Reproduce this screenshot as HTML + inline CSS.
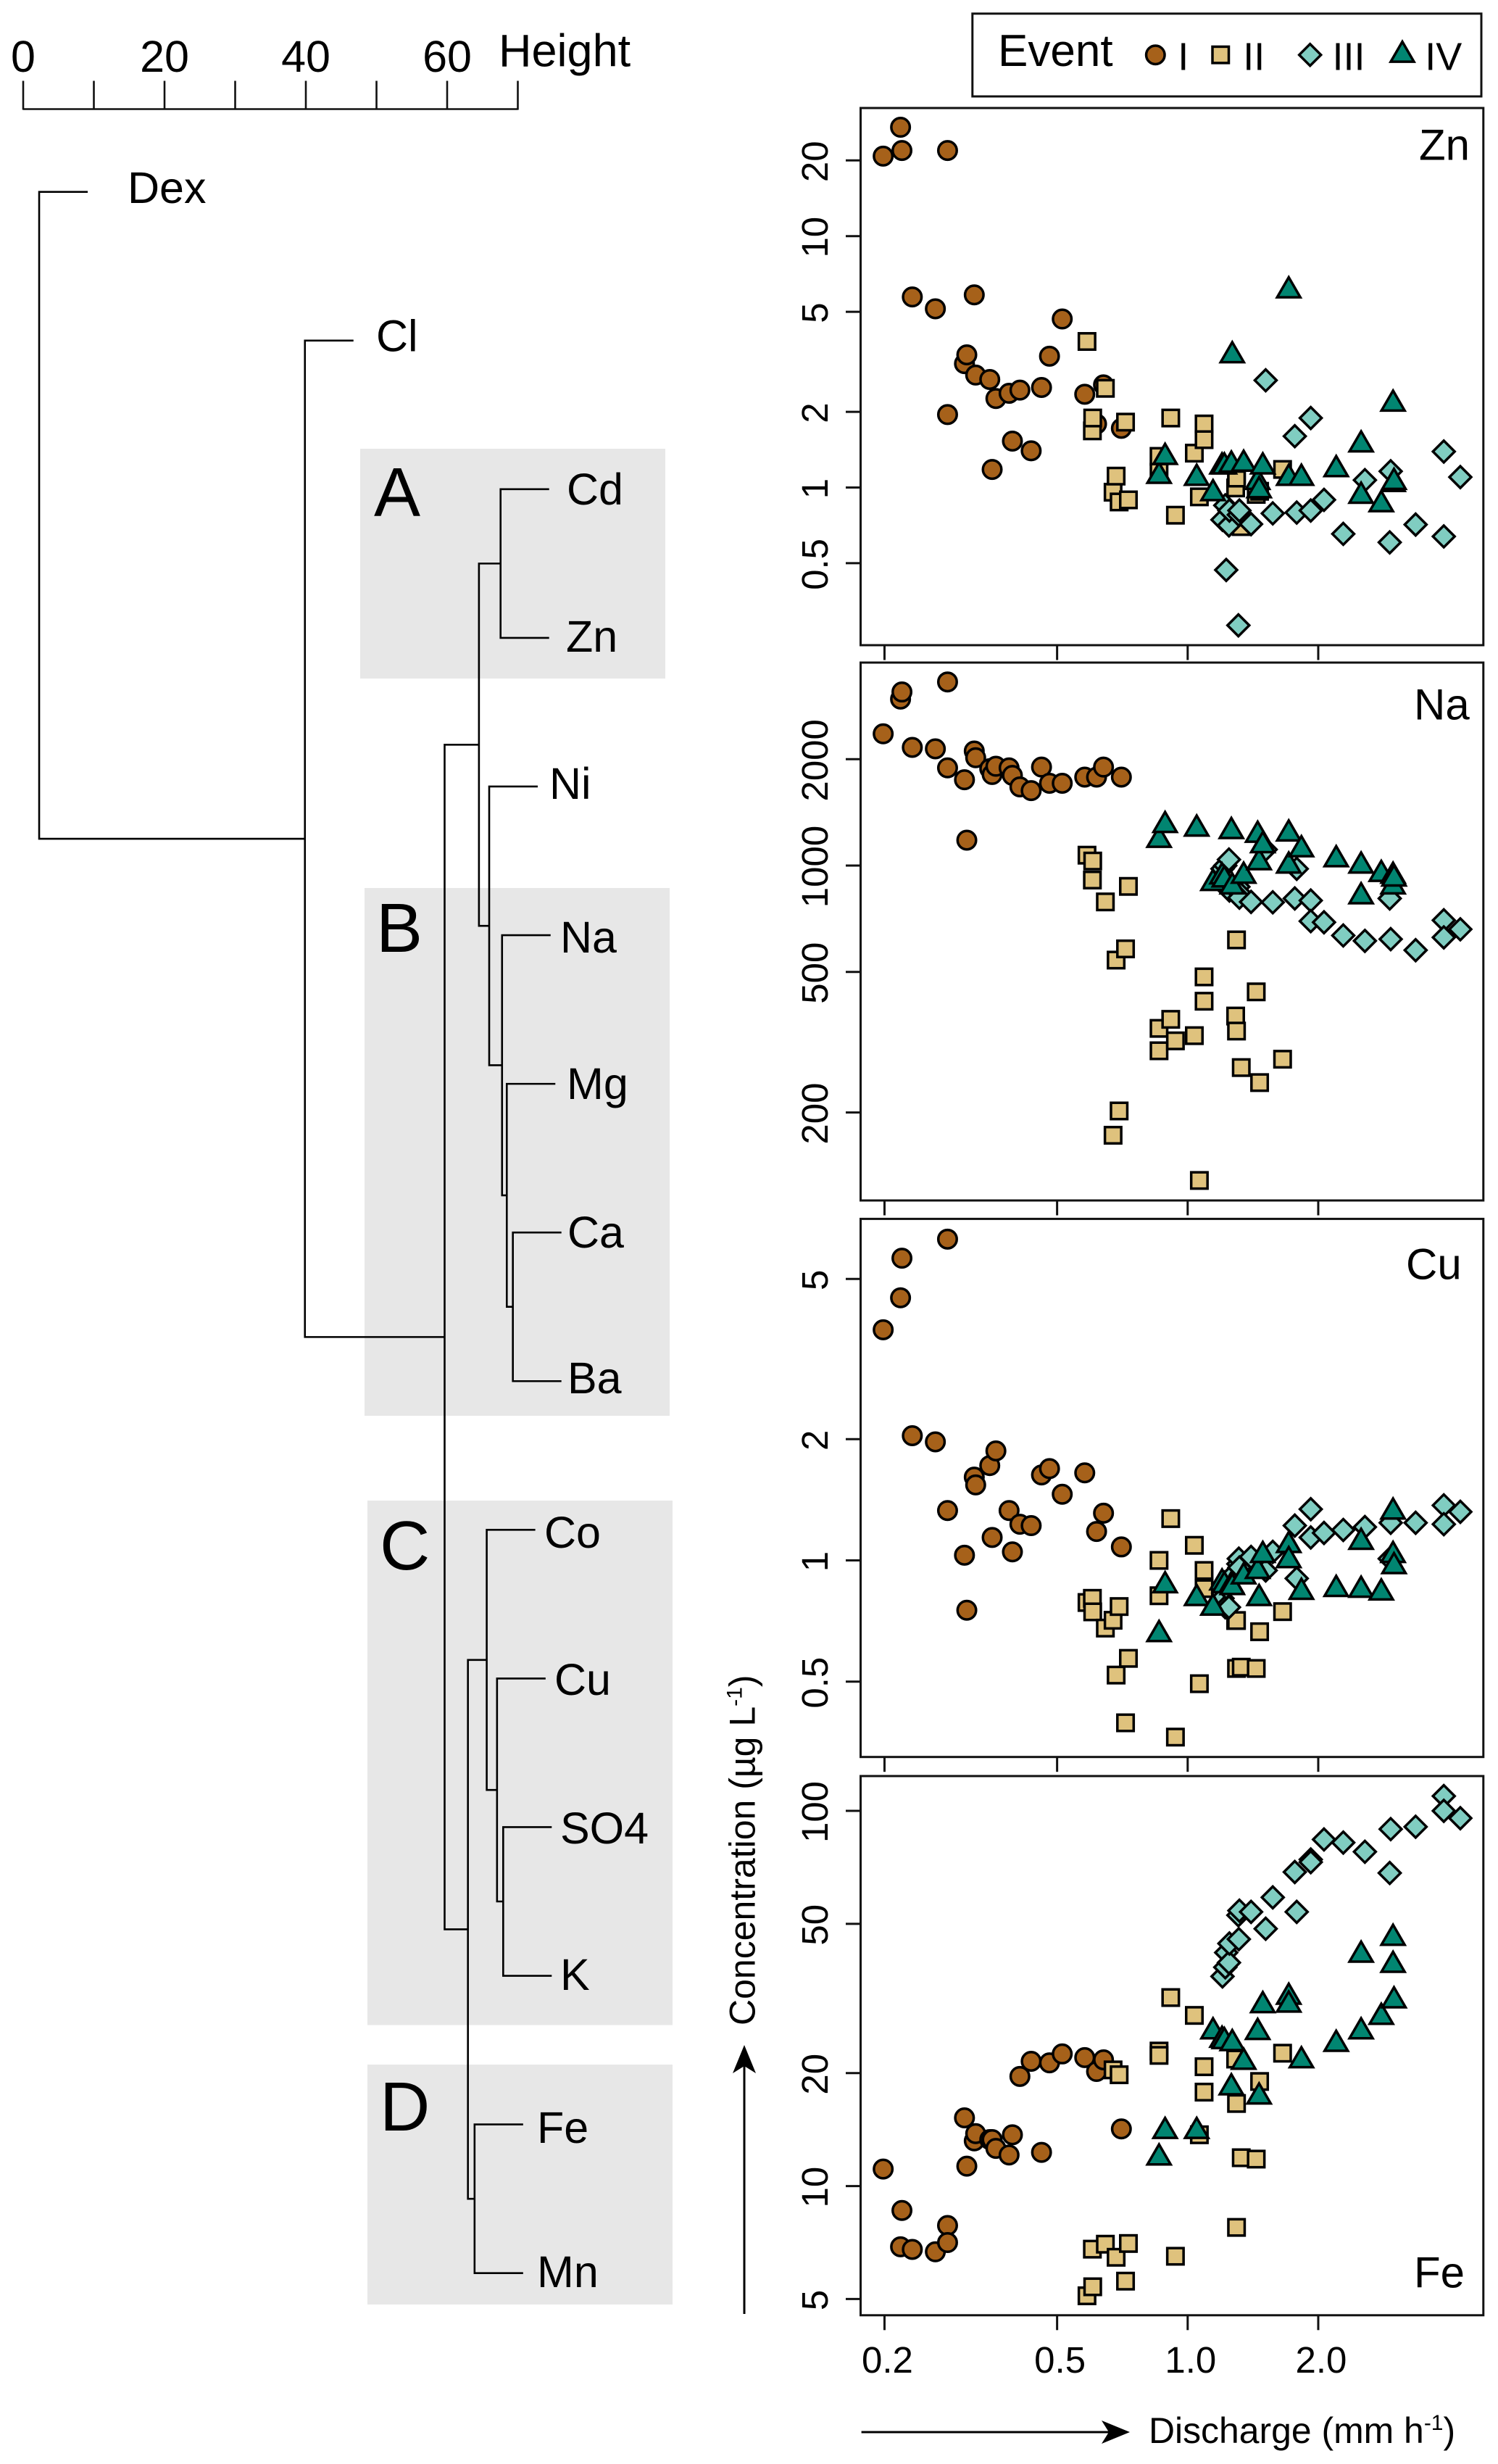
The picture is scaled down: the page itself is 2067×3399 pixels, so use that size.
<!DOCTYPE html>
<html lang="en">
<head>
<meta charset="utf-8">
<title>Dendrogram and concentration-discharge plots</title>
<style>
html,body{margin:0;padding:0;background:#fff;}
svg{display:block;}
text{font-family:"Liberation Sans",Arial,sans-serif;fill:#000;}
</style>
</head>
<body>
<svg id="figure" xmlns="http://www.w3.org/2000/svg" width="2067" height="3399" viewBox="0 0 2067 3399">
  <rect x="0" y="0" width="2067" height="3399" fill="#fff"/>

  <g fill="#e7e7e7">
    <rect x="497" y="619" width="421" height="317"/>
    <rect x="503" y="1225" width="421" height="728"/>
    <rect x="507" y="2070" width="421" height="723.5"/>
    <rect x="507" y="2848" width="421" height="331"/>
  </g>

  <g id="height-axis"></g>
  <text x="688" y="91.5" font-size="63">Height</text>

  <g id="dendrogram"></g>

  <g font-size="96">
    <text x="516" y="712">A</text>
    <text x="519" y="1313">B</text>
    <text x="524" y="2165">C</text>
    <text x="524" y="2939">D</text>
  </g>

  <g font-size="61">
    <text x="176" y="280">Dex</text>
    <text x="519" y="484.5">Cl</text>
    <text x="782" y="696">Cd</text>
    <text x="781" y="899">Zn</text>
    <text x="758" y="1102">Ni</text>
    <text x="773" y="1314">Na</text>
    <text x="782" y="1516">Mg</text>
    <text x="783" y="1721">Ca</text>
    <text x="783" y="1922">Ba</text>
    <text x="751" y="2135">Co</text>
    <text x="765" y="2338">Cu</text>
    <text x="773" y="2543">SO4</text>
    <text x="773" y="2745">K</text>
    <text x="741" y="2956">Fe</text>
    <text x="741" y="3155">Mn</text>
  </g>

  <g id="panels"></g>

  <g>
    <rect x="1341.8" y="18.8" width="702.2" height="114.2" fill="#fff" stroke="#111" stroke-width="3"/>
    <text x="1377" y="91" font-size="62">Event</text>
    <circle cx="1594.3" cy="75.7" r="12.75" fill="#a6611a" stroke="#000" stroke-width="3.5"/>
    <text x="1625.2" y="96.7" font-size="54">I</text>
    <rect x="1673" y="64.4" width="22.5" height="22.5" fill="#dfc27d" stroke="#000" stroke-width="3.5"/>
    <text x="1715.2" y="96.7" font-size="54">II</text>
    <polygon points="1807.7,60.7 1822.7,75.7 1807.7,90.7 1792.7,75.7" fill="#80cdc1" stroke="#000" stroke-width="3.5"/>
    <text x="1838.5" y="96.7" font-size="54">III</text>
    <polygon points="1935,57.5 1951,85.1 1919,85.1" fill="#018571" stroke="#000" stroke-width="3.5"/>
    <text x="1966.2" y="96.7" font-size="54">IV</text>
  </g>

  <text transform="translate(1041.7 2794) rotate(-90)" font-size="50">Concentration (µg L<tspan font-size="30" dy="-18">-1</tspan><tspan dy="18">)</tspan></text>
  <g>
    <line x1="1027" y1="3192" x2="1027" y2="2850" stroke="#000" stroke-width="3"/>
    <polygon points="1027,2821 1043,2860 1027,2850 1011,2860" fill="#000"/>
  </g>
  <text x="1585" y="3370" font-size="49.9">Discharge (mm h<tspan font-size="30" dy="-18">-1</tspan><tspan dy="18">)</tspan></text>
  <g>
    <line x1="1188.6" y1="3355" x2="1530" y2="3355" stroke="#000" stroke-width="3"/>
    <polygon points="1559,3355 1520,3371 1530,3355 1520,3339" fill="#000"/>
  </g>
</svg>

<script>
/* Height axis */
const heightTicks = [0, 10, 20, 30, 40, 50, 60, 70];
const heightTickLabels = [0, 20, 40, 60];

/* Dendrogram: R-style merge table (negative = leaf number, positive = merge number) */
const leafNames = ['Dex', 'Cl', 'Cd', 'Zn', 'Ni', 'Na', 'Mg', 'Ca', 'Ba', 'Co', 'Cu', 'SO4', 'K', 'Fe', 'Mn'];
const mergeLeft = [-3, -8, -7, -6, -5, 1, -12, -11, -10, -14, 9, 6, -2, -1];
const mergeRight = [-4, -9, 2, 3, 4, 5, -13, 7, 8, -15, 10, 11, 12, 13];
const mergeHeight = [67.56, 69.3, 68.44, 67.77, 65.95, 64.5, 67.93, 67.06, 65.6, 63.88, 62.94, 59.64, 39.87, 2.26];

/* Discharge axis */
const dischargeTicks = [0.2, 0.5, 1, 2];
const dischargeTickLabels = ['0.2', '0.5', '1.0', '2.0'];

/* Concentration axis ticks */
const znTicks = [0.5, 1, 2, 5, 10, 20];
const naTicks = [200, 500, 1000, 2000];
const cuTicks = [0.5, 1, 2, 5];
const feTicks = [5, 10, 20, 50, 100];

/* Event I */
const dischargeI = [0.1986, 0.2178, 0.2194, 0.2318, 0.262, 0.2795, 0.2795, 0.3058, 0.3096, 0.3221, 0.3245, 0.3497, 0.3542, 0.3613, 0.3875, 0.3944, 0.4104, 0.4357, 0.4603, 0.4802, 0.5138, 0.579, 0.6165, 0.6397, 0.7033];
const znI = [20.8, 27.1, 21.9, 5.73, 5.14, 21.9, 1.95, 3.11, 3.37, 5.84, 2.8, 2.69, 1.18, 2.26, 2.37, 1.53, 2.44, 1.4, 2.5, 3.33, 4.68, 2.35, 1.79, 2.56, 1.72];
const naI = [2360, 2960, 3100, 2160, 2140, 3310, 1890, 1750, 1180, 2110, 2020, 1880, 1810, 1910, 1890, 1800, 1670, 1630, 1900, 1710, 1710, 1780, 1780, 1900, 1780];
const cuI = [3.74, 4.49, 5.63, 2.04, 1.97, 6.28, 1.33, 1.03, 0.752, 1.61, 1.54, 1.72, 1.14, 1.87, 1.33, 1.05, 1.23, 1.22, 1.63, 1.69, 1.46, 1.65, 1.18, 1.31, 1.08];
const feI = [11.1, 6.89, 8.61, 6.78, 6.68, 7.85, 7.07, 15.2, 11.3, 13.2, 13.8, 13.3, 13.3, 12.6, 12.1, 13.7, 19.6, 21.5, 12.3, 21.3, 22.5, 22, 20.2, 21.7, 14.2];

/* Event II */
const dischargeII = [0.586, 0.603, 0.604, 0.646, 0.673, 0.684, 0.695, 0.719, 0.73, 0.859, 0.859, 0.914, 0.937, 1.036, 1.064, 1.091, 1.091, 1.29, 1.296, 1.296, 1.329, 1.439, 1.465, 1.655];
const znII = [3.81, 1.68, 1.89, 2.48, 0.958, 1.11, 0.876, 1.82, 0.893, 1.33, 1.15, 1.89, 0.776, 1.37, 0.918, 1.79, 1.55, 0.996, 1.13, 1.09, 0.699, 0.939, 0.966, 1.18];
const naII = [1070, 910, 1030, 789, 172.4, 540, 202, 581, 873, 346, 299, 367, 319, 330, 128.4, 484, 413, 375, 616, 340, 268, 439, 243, 283];
const cuII = [0.786, 0.805, 0.745, 0.679, 0.71, 0.519, 0.768, 0.395, 0.571, 1, 0.817, 1.27, 0.364, 1.09, 0.494, 0.944, 0.851, 0.709, 0.539, 0.709, 0.543, 0.539, 0.665, 0.746];
const feII = [5.1, 6.79, 5.39, 7, 20.4, 6.46, 19.8, 5.58, 7.03, 22.9, 22.3, 31.8, 6.5, 28.5, 13.7, 20.8, 17.8, 21.8, 16.6, 7.76, 11.9, 11.8, 19, 22.6];

/* Event III */
const dischargeIII = [1.203, 1.221, 1.227, 1.245, 1.248, 1.309, 1.312, 1.316, 1.4, 1.513, 1.571, 1.766, 1.784, 1.922, 1.922, 2.062, 2.284, 2.562, 2.923, 2.938, 3.354, 3.895, 3.895, 4.252];
const znIII = [0.744, 0.849, 0.47, 0.707, 0.81, 0.283, 0.779, 0.81, 0.715, 2.67, 0.789, 1.6, 0.795, 1.89, 0.81, 0.893, 0.654, 1.07, 0.605, 1.16, 0.712, 1.39, 0.639, 1.1];
const naIII = [979, 1000, 871, 1040, 850, 871, 840, 811, 789, 1110, 787, 807, 979, 796, 696, 691, 634, 612, 807, 619, 576, 700, 626, 660];
const cuIII = [0.805, 0.765, 0.857, 0.765, 0.902, 0.98, 1.01, 0.96, 1.02, 0.944, 1.05, 1.22, 0.902, 1.34, 1.14, 1.17, 1.19, 1.21, 1.01, 1.24, 1.24, 1.37, 1.23, 1.32];
const feIII = [36.2, 38.3, 41.9, 39.4, 44.3, 52.7, 45.5, 54.2, 53.8, 48.5, 58.8, 68.7, 53.8, 74.2, 73, 83.9, 82.3, 77.8, 68.3, 89.4, 90.7, 109.5, 100, 95.6];

/* Event IV */
const dischargeIV = [0.859, 0.887, 1.049, 1.144, 1.2, 1.215, 1.261, 1.267, 1.346, 1.45, 1.461, 1.49, 1.71, 1.71, 1.829, 2.2, 2.511, 2.511, 2.795, 2.975, 2.975, 2.99];
const znIV = [1.11, 1.32, 1.09, 0.947, 1.21, 1.21, 1.23, 3.35, 1.24, 1.05, 0.973, 1.21, 6.07, 1.09, 1.09, 1.18, 1.48, 0.925, 0.856, 2.15, 1.03, 1.05];
const naIV = [1180, 1300, 1270, 891, 930, 912, 1250, 871, 934, 1220, 1020, 1140, 1230, 998, 1110, 1040, 998, 817, 945, 934, 871, 917];
const cuIV = [0.655, 0.866, 0.805, 0.762, 0.88, 0.866, 0.866, 0.857, 0.911, 0.94, 0.805, 1.03, 1.09, 1, 0.834, 0.848, 1.11, 0.844, 0.831, 1.32, 1.03, 0.966];
const feIV = [11.9, 14, 14, 25.8, 24.5, 24.3, 18.3, 24, 21.4, 25.7, 17.3, 30.3, 31.9, 30.4, 21.6, 23.9, 41.3, 25.8, 28.2, 45.8, 38.8, 31.2];

const SVG_NS = 'http://www.w3.org/2000/svg';
function make(tag, attrs, parent) {
  const node = document.createElementNS(SVG_NS, tag);
  for (const key in attrs) node.setAttribute(key, attrs[key]);
  parent.appendChild(node);
  return node;
}

/* ---------- Height axis ---------- */
const heightX = h => 32 + 9.75 * h;
const heightAxis = document.getElementById('height-axis');
const heightBase = make('line', {x1: heightX(heightTicks[0]), y1: 150.5, x2: heightX(heightTicks[heightTicks.length - 1]), y2: 150.5, stroke: '#111', 'stroke-width': 2.6}, heightAxis);


heightTicks.forEach(t => {
  const tick = make('line', {x1: heightX(t), y1: 111.5, x2: heightX(t), y2: 151.5, stroke: '#111', 'stroke-width': 2.6}, heightAxis);
  
  
});
heightTickLabels.forEach(t => {
  const label = make('text', {x: heightX(t), y: 99, 'text-anchor': 'middle', 'font-size': 61}, heightAxis);
  label.textContent = String(t);
  
  
});

/* ---------- Dendrogram ---------- */
const dendrogram = document.getElementById('dendrogram');
const leafY = n => 264.7 + 205.07 * (n - 1);
const leafStem = 67;
const mergeNodes = [];
function childPoint(ref, parentX) {
  if (ref < 0) return {x: parentX + leafStem, y: leafY(-ref)};
  return mergeNodes[ref - 1];
}
mergeHeight.forEach((h, i) => {
  const x = heightX(h);
  const a = childPoint(mergeLeft[i], x);
  const b = childPoint(mergeRight[i], x);
  mergeNodes.push({x: x, y: (a.y + b.y) / 2});
  const branch = make('path', {
    d: 'M' + a.x + ' ' + a.y + 'H' + x + 'V' + b.y + 'H' + b.x,
    fill: 'none', stroke: '#000', 'stroke-width': 2.6
  }, dendrogram);
  
  
});

/* ---------- Scatter panels ---------- */
const dischargeX = v => 1638.8 + 598.5 * Math.log10(v);
const panelLeft = 1187.5;
const panelRight = 2046.8;
const logScale = (refValue, refY, pxPerDecade) => v => refY - pxPerDecade * Math.log10(v / refValue);

const panelDefs = [
  {name: 'zn', label: 'Zn', top: 149, bottom: 890, scale: logScale(1, 672.5, 346.8), ticks: znTicks, series: [znI, znII, znIII, znIV], labelX: 1958, labelY: 220.5},
  {name: 'na', label: 'Na', top: 914, bottom: 1656, scale: logScale(1000, 1194, 487.3), ticks: naTicks, series: [naI, naII, naIII, naIV], labelX: 1951, labelY: 992.5},
  {name: 'cu', label: 'Cu', top: 1681.4, bottom: 2423.7, scale: logScale(1, 2152.5, 555.4), ticks: cuTicks, series: [cuI, cuII, cuIII, cuIV], labelX: 1940, labelY: 1764.5},
  {name: 'fe', label: 'Fe', top: 2450, bottom: 3193.8, scale: logScale(10, 3015.6, 517.6), ticks: feTicks, series: [feI, feII, feIII, feIV], labelX: 1951, labelY: 3155.5}
];
const eventDischarge = [dischargeI, dischargeII, dischargeIII, dischargeIV];
const eventNames = ['i', 'ii', 'iii', 'iv'];
const eventFill = ['#a6611a', '#dfc27d', '#80cdc1', '#018571'];

function drawMarker(kind, x, y, parent) {
  const common = {fill: eventFill[kind], stroke: '#000', 'stroke-width': 3.5};
  if (kind === 0) return make('circle', Object.assign({cx: x, cy: y, r: 12.75}, common), parent);
  if (kind === 1) return make('rect', Object.assign({x: x - 11.25, y: y - 11.25, width: 22.5, height: 22.5}, common), parent);
  if (kind === 2) return make('polygon', Object.assign({points: [x, y - 15, x + 15, y, x, y + 15, x - 15, y].join(' ')}, common), parent);
  return make('polygon', Object.assign({points: [x, y - 18.4, x + 16, y + 9.2, x - 16, y + 9.2].join(' ')}, common), parent);
}

const panelsRoot = document.getElementById('panels');
panelDefs.forEach((panel, panelIndex) => {
  const group = make('g', {}, panelsRoot);
  
  

  /* y ticks */
  panel.ticks.forEach(t => {
    const y = panel.scale(t);
    const tick = make('line', {x1: panelLeft - 20.5, y1: y, x2: panelLeft, y2: y, stroke: '#111', 'stroke-width': 3}, group);
    
    
    const label = make('text', {transform: 'translate(1142 ' + (y + 1.5) + ') rotate(-90)', 'text-anchor': 'middle', 'font-size': 51}, group);
    label.textContent = String(t);
    
    
  });

  /* x ticks */
  dischargeTicks.forEach((t, k) => {
    const x = dischargeX(t);
    const tick = make('line', {x1: x, y1: panel.bottom, x2: x, y2: panel.bottom + 20.5, stroke: '#111', 'stroke-width': 3}, group);
    
    
    if (panelIndex === panelDefs.length - 1) {
      const label = make('text', {x: x + 4, y: 3273, 'text-anchor': 'middle', 'font-size': 51}, group);
      label.textContent = dischargeTickLabels[k];
      
      
    }
  });

  /* points */
  panel.series.forEach((values, kind) => {
    const xs = eventDischarge[kind];
    values.forEach((v, i) => {
      const mark = drawMarker(kind, dischargeX(xs[i]), panel.scale(v), group);
      
      
    });
  });

  /* frame */
  const frame = make('rect', {x: panelLeft, y: panel.top, width: panelRight - panelLeft, height: panel.bottom - panel.top, fill: 'none', stroke: '#111', 'stroke-width': 3}, group);
  
  

  /* element label */
  const title = make('text', {x: panel.labelX, y: panel.labelY, 'font-size': 60}, group);
  title.textContent = panel.label;
  
  
});
</script>
</body>
</html>
